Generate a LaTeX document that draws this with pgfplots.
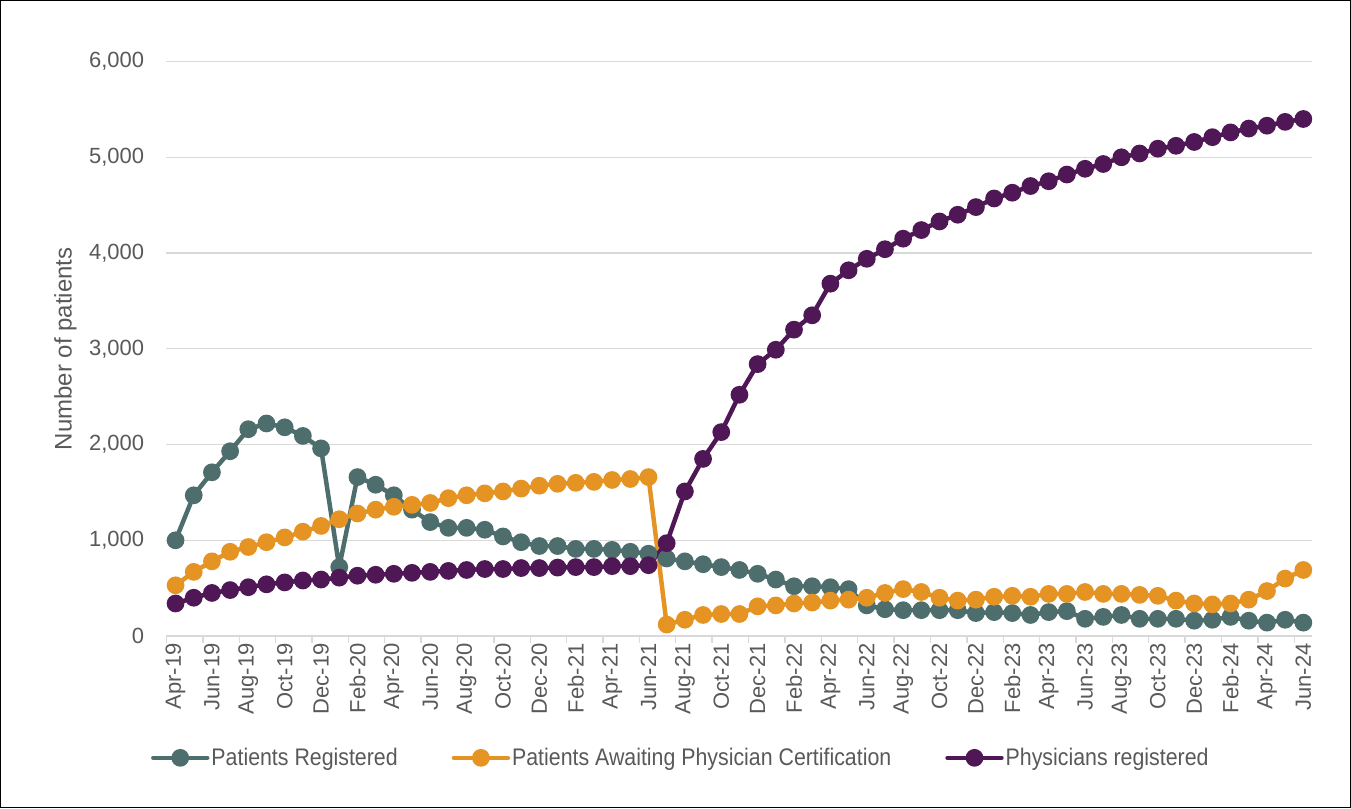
\documentclass[border=0pt]{standalone}
\usepackage{fontspec}
\setmainfont{Liberation Sans}
\newfontfamily\legfont[FakeStretch=0.89]{Liberation Sans}
\usepackage{pgfplots}
\pgfplotsset{compat=1.18}
\usepackage{pgfplotstable}

\definecolor{cReg}{HTML}{4E6E6D}
\definecolor{cWait}{HTML}{E59423}
\definecolor{cPhys}{HTML}{4F1756}
\definecolor{cGrid}{HTML}{D9D9D9}
\definecolor{cText}{HTML}{595959}

% month index (0 = Apr-19), registered, awaiting certification, physicians
\pgfplotstableread{
m reg wait phys
0 1000 530 340
1 1470 670 400
2 1710 780 450
3 1930 880 480
4 2160 930 510
5 2220 980 540
6 2180 1030 560
7 2090 1090 580
8 1960 1150 590
9 720 1220 610
10 1660 1280 630
11 1580 1320 640
12 1470 1350 650
13 1320 1370 660
14 1190 1390 670
15 1130 1440 680
16 1130 1470 690
17 1110 1490 700
18 1040 1510 700
19 980 1540 710
20 940 1570 710
21 940 1590 715
22 910 1600 720
23 910 1610 720
24 900 1630 730
25 880 1640 730
26 860 1660 740
27 810 120 970
28 780 170 1510
29 750 220 1850
30 720 230 2130
31 690 230 2520
32 650 310 2840
33 590 320 2990
34 520 340 3200
35 520 350 3350
36 510 370 3680
37 490 380 3820
38 320 400 3940
39 280 450 4040
40 270 490 4150
41 270 460 4240
42 270 400 4330
43 270 370 4400
44 240 380 4480
45 250 410 4570
46 240 420 4630
47 220 410 4700
48 250 440 4750
49 260 440 4820
50 180 460 4880
51 200 440 4930
52 220 440 5000
53 180 430 5040
54 180 420 5090
55 180 370 5120
56 160 340 5160
57 170 330 5210
58 200 340 5260
59 160 380 5300
60 140 470 5330
61 170 600 5370
62 140 690 5400
}\data

\begin{document}
\begin{tikzpicture}
\begin{axis}[
  name=ax,
  width=573.5bp, height=287.5bp, scale only axis,
  xmin=-0.5, xmax=62.5, ymin=0, ymax=6000,
  clip=false,
  axis line style={draw=none},
  xtick={0,2,...,62},
  xticklabels={Apr-19,Jun-19,Aug-19,Oct-19,Dec-19,Feb-20,Apr-20,Jun-20,Aug-20,Oct-20,Dec-20,Feb-21,Apr-21,Jun-21,Aug-21,Oct-21,Dec-21,Feb-22,Apr-22,Jun-22,Aug-22,Oct-22,Dec-22,Feb-23,Apr-23,Jun-23,Aug-23,Oct-23,Dec-23,Feb-24,Apr-24,Jun-24},
  xtick pos=left,
  major tick length=0pt,
  extra x ticks={-0.5,1.5,...,61.5},
  extra x tick labels={},
  extra x tick style={grid=none, major tick length=3.5bp, tick align=outside, tick style={cGrid, line width=0.7bp}},
  ytick={0,1000,...,6000},
  ymajorgrids,
  grid style={cGrid, line width=0.7bp},
  ytick style={draw=none},
  /pgf/number format/.cd, 1000 sep={,}, assume math mode=true,
  /pgfplots/.cd,
  tick label style={font=\fontsize{11bp}{13bp}\selectfont, text=cText},
  xticklabel style={rotate=90, anchor=east, inner sep=3.5bp},
  yticklabel style={anchor=east, inner sep=0pt, xshift=-11bp},
  ylabel={Number of patients},
  ylabel style={at={(rel axis cs:0,0.5)}, anchor=center, yshift=50.5bp, font=\fontsize{12bp}{14bp}\selectfont, text=cText},
  every axis plot/.append style={line width=2.25bp, mark=*, mark size=3.3bp, mark options={solid}},
  legend columns=3,
  legend style={at={(-0.019,-0.212)}, anchor=west, draw=none, fill=none,
    font=\legfont\fontsize{12bp}{14bp}\selectfont, text=cText,
    nodes={inner sep=1bp},
    /tikz/every even column/.append style={column sep=26bp},
    /tikz/every odd column/.append style={column sep=0bp}},
  legend image code/.code={\draw[mark repeat=2,mark phase=2,line cap=round,#1] plot coordinates {(0bp,0bp)(13.5bp,0bp)(27bp,0bp)};},
]
\addplot[cReg, mark options={fill=cReg}] table[x=m, y=reg] {\data};
\addlegendentry{Patients Registered}
\addplot[cWait, mark options={fill=cWait}] table[x=m, y=wait] {\data};
\addlegendentry{Patients Awaiting Physician Certification}
\addplot[cPhys, mark options={fill=cPhys}] table[x=m, y=phys] {\data};
\addlegendentry{Physicians registered}
\end{axis}
\draw[black, line width=0.6bp] ([shift={(-83bp,-86bp)}]ax.south west) rectangle ([shift={(19bp,30.5bp)}]ax.north east);
\end{tikzpicture}
\end{document}
